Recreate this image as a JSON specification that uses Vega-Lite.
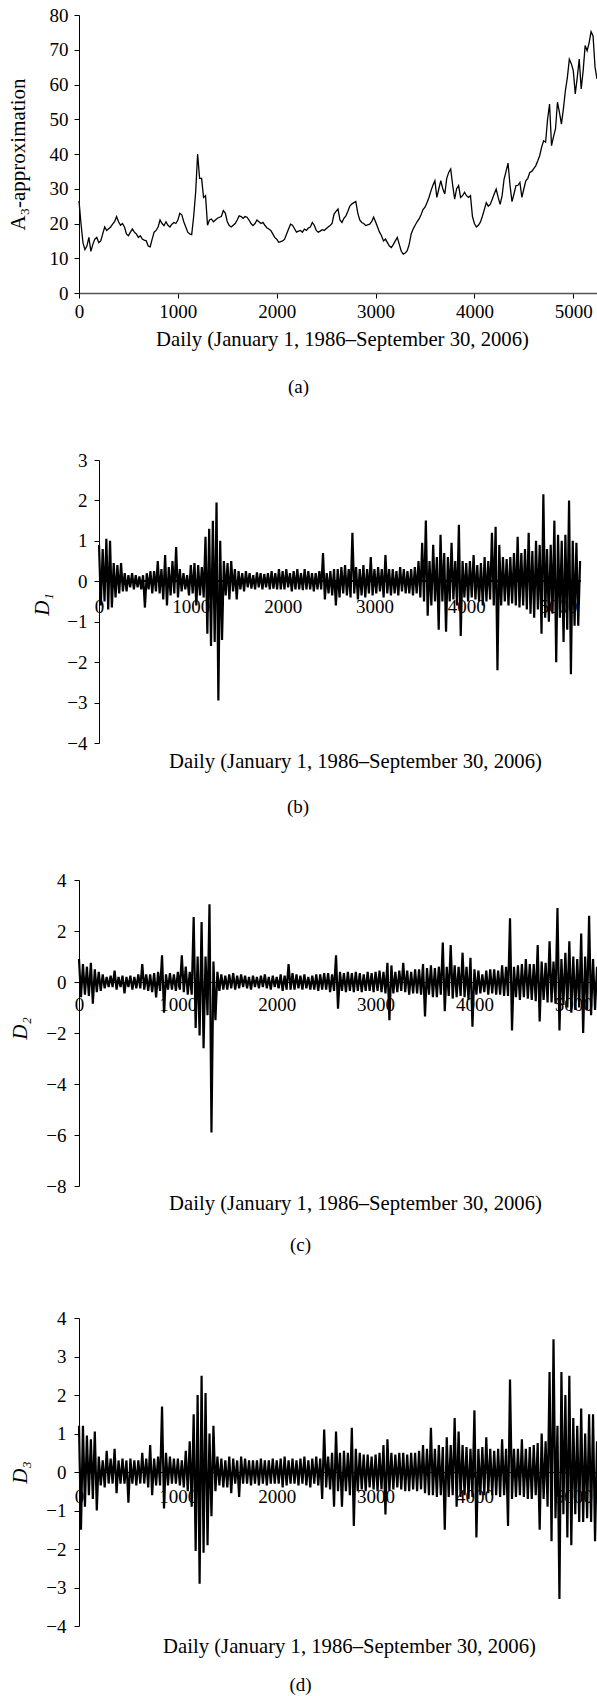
{
"$schema": "https://vega.github.io/schema/vega-lite/v6.json",
"background": "white",
"padding": {"left": 7, "top": 6, "right": 0, "bottom": 0},
"spacing": 54,
"config": {
  "font": "Liberation Serif",
  "view": {"stroke": null},
  "axis": {"labelFont": "Liberation Serif", "titleFont": "Liberation Serif", "labelFontSize": 19, "titleFontSize": 20.7, "titleFontWeight": "normal", "labelColor": "#000", "titleColor": "#000", "domainColor": "#000", "tickColor": "#000", "grid": false, "labelOverlap": false, "labelFlush": false},
  "axisY": {"titleFontSize": 21},
  "title": {"font": "Liberation Serif", "fontSize": 19, "fontWeight": "normal", "color": "#000"}
},
"datasets": {"s": [
{"t":0,"a":26.5,"b":0.9,"c":0.9,"d":1.2},{"t":20,"a":20,"b":-0.6,"c":-0.6,"d":-1.5},{"t":40,"a":14.5,"b":0.8,"c":0.7,"d":1.2},{"t":60,"a":12.5,"b":-0.5,"c":-0.5,"d":-0.9},{"t":80,"a":13.5,"b":1.05,"c":0.6,"d":0.95},{"t":100,"a":16,"b":-0.7,"c":-0.55,"d":-0.6},{"t":120,"a":12,"b":1.0,"c":0.75,"d":0.85},{"t":140,"a":14,"b":-0.65,"c":-0.85,"d":-0.7},{"t":160,"a":15.5,"b":0.45,"c":0.5,"d":1.05},{"t":180,"a":16,"b":-0.4,"c":-0.4,"d":-1.0},
{"t":200,"a":14.5,"b":0.4,"c":0.4,"d":0.4},{"t":220,"a":15,"b":-0.3,"c":-0.35,"d":-0.35},{"t":240,"a":17,"b":0.45,"c":0.3,"d":0.3},{"t":260,"a":19,"b":-0.25,"c":-0.25,"d":-0.4},{"t":280,"a":18,"b":0.2,"c":0.2,"d":0.55},{"t":300,"a":18.5,"b":-0.25,"c":-0.2,"d":-0.3},{"t":320,"a":19,"b":0.15,"c":0.25,"d":0.35},{"t":340,"a":19.8,"b":-0.15,"c":-0.2,"d":-0.3},{"t":360,"a":20.5,"b":0.2,"c":0.45,"d":0.6},{"t":380,"a":22,"b":-0.2,"c":-0.3,"d":-0.55},
{"t":400,"a":20.5,"b":0.15,"c":0.2,"d":0.3},{"t":420,"a":19.5,"b":-0.15,"c":-0.2,"d":-0.3},{"t":440,"a":20,"b":0.12,"c":0.25,"d":0.35},{"t":460,"a":19,"b":-0.2,"c":-0.45,"d":-0.3},{"t":480,"a":17,"b":0.15,"c":0.2,"d":0.3},{"t":500,"a":16.5,"b":-0.65,"c":-0.2,"d":-0.8},{"t":520,"a":17.5,"b":0.2,"c":0.25,"d":0.35},{"t":540,"a":18.4,"b":-0.2,"c":-0.3,"d":-0.3},{"t":560,"a":17.5,"b":0.25,"c":0.2,"d":0.3},{"t":580,"a":17,"b":-0.3,"c":-0.25,"d":-0.35},
{"t":600,"a":16,"b":0.25,"c":0.3,"d":0.3},{"t":620,"a":16.5,"b":-0.25,"c":-0.25,"d":-0.3},{"t":640,"a":15.5,"b":0.5,"c":0.7,"d":0.5},{"t":660,"a":15.2,"b":-0.3,"c":-0.3,"d":-0.3},{"t":680,"a":15,"b":0.3,"c":0.3,"d":0.35},{"t":700,"a":13.5,"b":-0.45,"c":-0.35,"d":-0.4},{"t":720,"a":13.3,"b":0.65,"c":0.3,"d":0.7},{"t":740,"a":15.5,"b":-0.6,"c":-0.4,"d":-0.6},{"t":760,"a":17.5,"b":0.35,"c":0.35,"d":0.35},{"t":780,"a":18,"b":-0.35,"c":-0.6,"d":-0.35},
{"t":800,"a":19,"b":0.5,"c":0.4,"d":0.4},{"t":820,"a":21,"b":-0.3,"c":-0.35,"d":-0.35},{"t":840,"a":20,"b":0.85,"c":1.05,"d":1.7},{"t":860,"a":19.4,"b":-0.4,"c":-1.2,"d":-0.95},{"t":880,"a":20.5,"b":0.3,"c":0.3,"d":0.5},{"t":900,"a":19.5,"b":-0.25,"c":-0.3,"d":-0.35},{"t":920,"a":19,"b":0.2,"c":0.35,"d":0.4},{"t":940,"a":19.8,"b":-0.2,"c":-0.3,"d":-0.3},{"t":960,"a":20.3,"b":0.15,"c":0.3,"d":0.35},{"t":980,"a":20,"b":-0.35,"c":-0.35,"d":-0.3},
{"t":1000,"a":21,"b":0.4,"c":0.4,"d":0.35},{"t":1020,"a":22.9,"b":-0.3,"c":-0.3,"d":-0.35},{"t":1040,"a":22.5,"b":0.45,"c":1.05,"d":0.3},{"t":1060,"a":20.5,"b":-0.6,"c":-0.4,"d":-0.4},{"t":1080,"a":19,"b":0.4,"c":0.6,"d":0.55},{"t":1100,"a":17.5,"b":-0.35,"c":-0.5,"d":-0.5},{"t":1120,"a":17,"b":0.35,"c":0.4,"d":0.8},{"t":1140,"a":16.8,"b":-0.4,"c":-0.5,"d":-0.9},{"t":1160,"a":22,"b":1.1,"c":2.55,"d":1.5},{"t":1180,"a":29,"b":-1.3,"c":-1.8,"d":-2.05},
{"t":1200,"a":40,"b":1.3,"c":1.0,"d":2.0},{"t":1220,"a":33,"b":-1.6,"c":-2.1,"d":-2.9},{"t":1240,"a":33,"b":1.5,"c":2.35,"d":2.5},{"t":1260,"a":27.5,"b":-1.5,"c":-2.6,"d":-2.1},{"t":1280,"a":28,"b":1.95,"c":1.0,"d":2.05},{"t":1300,"a":19.5,"b":-2.95,"c":-1.3,"d":-1.9},{"t":1320,"a":21,"b":1.0,"c":3.05,"d":1.0},{"t":1340,"a":21.3,"b":-1.45,"c":-5.9,"d":-1.15},{"t":1360,"a":20.5,"b":0.5,"c":0.8,"d":1.2},{"t":1380,"a":21,"b":-0.35,"c":-1.5,"d":-0.5},
{"t":1400,"a":21.5,"b":0.45,"c":0.4,"d":0.4},{"t":1420,"a":21.8,"b":-0.45,"c":-0.35,"d":-0.35},{"t":1440,"a":22,"b":0.5,"c":0.3,"d":0.35},{"t":1460,"a":23.7,"b":-0.25,"c":-0.3,"d":-0.4},{"t":1480,"a":23,"b":0.3,"c":0.25,"d":0.3},{"t":1500,"a":20.5,"b":-0.45,"c":-0.3,"d":-0.4},{"t":1520,"a":19.4,"b":0.25,"c":0.3,"d":0.4},{"t":1540,"a":19,"b":-0.2,"c":-0.25,"d":-0.55},{"t":1560,"a":19.5,"b":0.2,"c":0.35,"d":0.35},{"t":1580,"a":20,"b":-0.25,"c":-0.3,"d":-0.3},
{"t":1600,"a":21,"b":0.25,"c":0.25,"d":0.3},{"t":1620,"a":22.2,"b":-0.15,"c":-0.25,"d":-0.65},{"t":1640,"a":22,"b":0.2,"c":0.3,"d":0.4},{"t":1660,"a":21.5,"b":-0.18,"c":-0.2,"d":-0.3},{"t":1680,"a":22,"b":0.15,"c":0.25,"d":0.35},{"t":1700,"a":21.8,"b":-0.2,"c":-0.25,"d":-0.3},{"t":1720,"a":21,"b":0.22,"c":0.2,"d":0.3},{"t":1740,"a":20,"b":-0.15,"c":-0.3,"d":-0.35},{"t":1760,"a":19.4,"b":0.2,"c":0.25,"d":0.3},{"t":1780,"a":20,"b":-0.2,"c":-0.2,"d":-0.3},
{"t":1800,"a":21,"b":0.18,"c":0.2,"d":0.3},{"t":1820,"a":20.5,"b":-0.15,"c":-0.25,"d":-0.35},{"t":1840,"a":20,"b":0.2,"c":0.25,"d":0.35},{"t":1860,"a":20.3,"b":-0.2,"c":-0.2,"d":-0.3},{"t":1880,"a":19.5,"b":0.25,"c":0.3,"d":0.3},{"t":1900,"a":18.8,"b":-0.18,"c":-0.25,"d":-0.35},{"t":1920,"a":18.4,"b":0.2,"c":0.2,"d":0.3},{"t":1940,"a":18,"b":-0.2,"c":-0.3,"d":-0.3},{"t":1960,"a":17,"b":0.3,"c":0.25,"d":0.35},{"t":1980,"a":16,"b":-0.2,"c":-0.2,"d":-0.3},
{"t":2000,"a":15.5,"b":0.25,"c":0.2,"d":0.3},{"t":2020,"a":14.6,"b":-0.2,"c":-0.25,"d":-0.3},{"t":2040,"a":14.8,"b":0.3,"c":0.3,"d":0.35},{"t":2060,"a":15,"b":-0.15,"c":-0.35,"d":-0.4},{"t":2080,"a":15.5,"b":0.2,"c":0.25,"d":0.4},{"t":2100,"a":17,"b":-0.25,"c":-0.3,"d":-0.35},{"t":2120,"a":18.4,"b":0.25,"c":0.7,"d":0.3},{"t":2140,"a":19.8,"b":-0.2,"c":-0.3,"d":-0.3},{"t":2160,"a":19.5,"b":0.3,"c":0.35,"d":0.35},{"t":2180,"a":18.5,"b":-0.2,"c":-0.3,"d":-0.3},
{"t":2200,"a":17.5,"b":0.2,"c":0.3,"d":0.3},{"t":2220,"a":17.8,"b":-0.22,"c":-0.25,"d":-0.35},{"t":2240,"a":18,"b":0.3,"c":0.25,"d":0.35},{"t":2260,"a":17.5,"b":-0.2,"c":-0.3,"d":-0.3},{"t":2280,"a":18.4,"b":0.25,"c":0.3,"d":0.4},{"t":2300,"a":18,"b":-0.2,"c":-0.25,"d":-0.35},{"t":2320,"a":18.7,"b":0.2,"c":0.2,"d":0.3},{"t":2340,"a":19,"b":-0.25,"c":-0.3,"d":-0.4},{"t":2360,"a":20.3,"b":0.2,"c":0.25,"d":0.35},{"t":2380,"a":19.5,"b":-0.2,"c":-0.3,"d":-0.3},
{"t":2400,"a":18,"b":0.25,"c":0.3,"d":0.4},{"t":2420,"a":17.5,"b":-0.2,"c":-0.35,"d":-0.35},{"t":2440,"a":17.8,"b":0.7,"c":0.3,"d":0.35},{"t":2460,"a":18.2,"b":-0.45,"c":-0.3,"d":-0.7},{"t":2480,"a":18,"b":0.2,"c":0.35,"d":1.1},{"t":2500,"a":18.5,"b":-0.3,"c":-0.3,"d":-0.4},{"t":2520,"a":19,"b":0.25,"c":0.35,"d":0.4},{"t":2540,"a":19.4,"b":-0.35,"c":-0.4,"d":-0.45},{"t":2560,"a":20,"b":0.3,"c":0.3,"d":0.5},{"t":2580,"a":22.7,"b":-0.6,"c":-0.35,"d":-0.9},
{"t":2600,"a":23.5,"b":0.3,"c":1.05,"d":1.05},{"t":2620,"a":24.2,"b":-0.4,"c":-1.05,"d":-0.5},{"t":2640,"a":21,"b":0.35,"c":0.4,"d":0.5},{"t":2660,"a":20.3,"b":-0.3,"c":-0.35,"d":-0.9},{"t":2680,"a":21.5,"b":0.4,"c":0.35,"d":0.55},{"t":2700,"a":22.2,"b":-0.35,"c":-0.4,"d":-0.5},{"t":2720,"a":23.5,"b":0.3,"c":0.4,"d":0.5},{"t":2740,"a":25,"b":-0.4,"c":-0.35,"d":-0.6},{"t":2760,"a":25.6,"b":1.2,"c":0.35,"d":1.15},{"t":2780,"a":26,"b":-0.3,"c":-0.4,"d":-1.4},
{"t":2800,"a":26.3,"b":0.35,"c":0.4,"d":0.6},{"t":2820,"a":23,"b":-0.45,"c":-0.35,"d":-0.5},{"t":2840,"a":21,"b":0.3,"c":0.35,"d":0.5},{"t":2860,"a":20.3,"b":-0.35,"c":-0.4,"d":-0.45},{"t":2880,"a":20,"b":0.4,"c":0.3,"d":0.45},{"t":2900,"a":19.4,"b":-0.4,"c":-0.35,"d":-0.5},{"t":2920,"a":19.6,"b":0.3,"c":0.4,"d":0.45},{"t":2940,"a":19.8,"b":-0.3,"c":-0.35,"d":-0.4},{"t":2960,"a":20.5,"b":0.6,"c":0.35,"d":0.4},{"t":2980,"a":21.8,"b":-0.35,"c":-0.4,"d":-0.45},
{"t":3000,"a":20.5,"b":0.3,"c":0.4,"d":0.45},{"t":3020,"a":19,"b":-0.3,"c":-0.35,"d":-0.5},{"t":3040,"a":17.5,"b":0.35,"c":0.45,"d":0.5},{"t":3060,"a":16.5,"b":-0.25,"c":-0.4,"d":-0.45},{"t":3080,"a":15,"b":0.3,"c":0.4,"d":0.7},{"t":3100,"a":15.5,"b":-0.4,"c":-0.45,"d":-1.1},{"t":3120,"a":14.5,"b":0.65,"c":0.75,"d":0.85},{"t":3140,"a":13.5,"b":-0.3,"c":-1.5,"d":-0.5},{"t":3160,"a":13.1,"b":0.3,"c":0.65,"d":0.5},{"t":3180,"a":14,"b":-0.35,"c":-0.45,"d":-0.45},
{"t":3200,"a":15,"b":0.3,"c":0.4,"d":0.45},{"t":3220,"a":16,"b":-0.3,"c":-0.4,"d":-0.4},{"t":3240,"a":14,"b":0.25,"c":0.45,"d":0.5},{"t":3260,"a":12,"b":-0.35,"c":-0.35,"d":-0.45},{"t":3280,"a":11.2,"b":0.35,"c":0.75,"d":0.5},{"t":3300,"a":11.5,"b":-0.25,"c":-0.4,"d":-0.5},{"t":3320,"a":12.2,"b":0.3,"c":0.45,"d":0.45},{"t":3340,"a":14,"b":-0.3,"c":-0.5,"d":-0.5},{"t":3360,"a":17,"b":0.25,"c":0.4,"d":0.5},{"t":3380,"a":18.4,"b":-0.3,"c":-0.45,"d":-0.45},
{"t":3400,"a":19.5,"b":0.3,"c":0.5,"d":0.5},{"t":3420,"a":20.5,"b":-0.35,"c":-0.45,"d":-0.5},{"t":3440,"a":21.3,"b":0.35,"c":0.5,"d":0.55},{"t":3460,"a":22.5,"b":-0.3,"c":-0.5,"d":-0.45},{"t":3480,"a":24,"b":0.5,"c":0.7,"d":0.7},{"t":3500,"a":24.7,"b":-0.4,"c":-1.35,"d":-0.55},{"t":3520,"a":26,"b":0.95,"c":0.55,"d":0.6},{"t":3540,"a":27.5,"b":-0.5,"c":-0.5,"d":-0.6},{"t":3560,"a":29.4,"b":1.5,"c":0.65,"d":1.15},{"t":3580,"a":31,"b":-0.85,"c":-0.6,"d":-0.6},
{"t":3600,"a":32.3,"b":0.5,"c":0.55,"d":0.6},{"t":3620,"a":27.5,"b":-0.6,"c":-0.6,"d":-0.65},{"t":3640,"a":30,"b":0.9,"c":0.6,"d":0.7},{"t":3660,"a":32.3,"b":-0.5,"c":-0.5,"d":-0.6},{"t":3680,"a":30,"b":0.6,"c":1.55,"d":0.65},{"t":3700,"a":28.5,"b":-1.2,"c":-1.15,"d":-1.5},{"t":3720,"a":33,"b":1.15,"c":0.6,"d":0.9},{"t":3740,"a":34.7,"b":-0.5,"c":-0.55,"d":-0.65},{"t":3760,"a":35.7,"b":0.7,"c":1.45,"d":0.7},{"t":3780,"a":31,"b":-1.25,"c":-0.65,"d":-0.6},
{"t":3800,"a":27,"b":0.6,"c":0.65,"d":1.4},{"t":3820,"a":30,"b":-0.5,"c":-0.6,"d":-0.9},{"t":3840,"a":30.9,"b":0.95,"c":0.6,"d":1.05},{"t":3860,"a":27.5,"b":-0.45,"c":-0.55,"d":-0.65},{"t":3880,"a":28,"b":0.5,"c":1.15,"d":0.7},{"t":3900,"a":29,"b":-0.6,"c":-0.6,"d":-0.6},{"t":3920,"a":28,"b":1.4,"c":0.6,"d":0.65},{"t":3940,"a":27.5,"b":-1.35,"c":-0.7,"d":-0.7},{"t":3960,"a":28,"b":0.5,"c":0.95,"d":0.6},{"t":3980,"a":22,"b":-0.4,"c":-1.75,"d":-0.65},
{"t":4000,"a":20,"b":0.45,"c":0.5,"d":1.6},{"t":4020,"a":19,"b":-0.5,"c":-0.5,"d":-1.7},{"t":4040,"a":19.5,"b":0.5,"c":0.45,"d":0.6},{"t":4060,"a":20.4,"b":-0.4,"c":-0.45,"d":-0.6},{"t":4080,"a":22,"b":0.65,"c":0.3,"d":0.65},{"t":4100,"a":24,"b":-0.45,"c":-0.4,"d":-0.6},{"t":4120,"a":26,"b":0.4,"c":0.45,"d":0.9},{"t":4140,"a":25,"b":-0.5,"c":-0.5,"d":-0.55},{"t":4160,"a":25.5,"b":0.45,"c":0.5,"d":0.6},{"t":4180,"a":27,"b":-0.6,"c":-0.45,"d":-0.6},
{"t":4200,"a":28.5,"b":0.6,"c":0.5,"d":0.55},{"t":4220,"a":29.9,"b":-0.5,"c":-0.5,"d":-0.6},{"t":4240,"a":27.5,"b":0.5,"c":0.45,"d":0.6},{"t":4260,"a":25.5,"b":-0.45,"c":-0.5,"d":-0.65},{"t":4280,"a":28,"b":1.2,"c":0.65,"d":0.85},{"t":4300,"a":32.8,"b":-0.6,"c":-0.55,"d":-0.6},{"t":4320,"a":35,"b":1.35,"c":0.6,"d":0.6},{"t":4340,"a":37.4,"b":-2.2,"c":-0.55,"d":-1.4},{"t":4360,"a":31,"b":0.9,"c":2.5,"d":2.4},{"t":4380,"a":26.3,"b":-0.6,"c":-1.9,"d":-0.7},
{"t":4400,"a":28.5,"b":0.6,"c":0.6,"d":0.6},{"t":4420,"a":30.9,"b":-0.5,"c":-0.6,"d":-0.65},{"t":4440,"a":31,"b":0.55,"c":0.65,"d":0.6},{"t":4460,"a":31.8,"b":-0.6,"c":-0.7,"d":-0.6},{"t":4480,"a":27.5,"b":0.6,"c":0.7,"d":0.85},{"t":4500,"a":30,"b":-0.55,"c":-0.6,"d":-0.65},{"t":4520,"a":32.3,"b":0.7,"c":0.9,"d":0.6},{"t":4540,"a":33,"b":-0.6,"c":-0.65,"d":-0.7},{"t":4560,"a":34.7,"b":1.1,"c":0.7,"d":0.65},{"t":4580,"a":35,"b":-0.65,"c":-0.7,"d":-0.7},
{"t":4600,"a":35.8,"b":0.7,"c":0.7,"d":0.7},{"t":4620,"a":36.6,"b":-0.6,"c":-0.75,"d":-0.6},{"t":4640,"a":38,"b":0.8,"c":1.45,"d":0.75},{"t":4660,"a":39.5,"b":-0.7,"c":-1.55,"d":-1.5},{"t":4680,"a":42,"b":1.2,"c":0.8,"d":1.0},{"t":4700,"a":43.8,"b":-0.8,"c":-0.7,"d":-0.7},{"t":4720,"a":43.4,"b":0.75,"c":0.75,"d":0.8},{"t":4740,"a":50,"b":-0.9,"c":-0.8,"d":-0.9},{"t":4760,"a":54.4,"b":1.0,"c":1.6,"d":2.6},{"t":4780,"a":42.4,"b":-0.7,"c":-0.8,"d":-1.8},
{"t":4800,"a":45,"b":0.9,"c":0.8,"d":3.45},{"t":4820,"a":47.2,"b":-1.3,"c":-0.85,"d":-1.2},{"t":4840,"a":54.9,"b":2.15,"c":2.9,"d":1.2},{"t":4860,"a":52,"b":-0.9,"c":-1.9,"d":-3.3},{"t":4880,"a":48.6,"b":0.8,"c":0.9,"d":2.6},{"t":4900,"a":53,"b":-1.0,"c":-0.9,"d":-1.1},{"t":4920,"a":58.2,"b":0.9,"c":1.15,"d":2.0},{"t":4940,"a":62,"b":-0.8,"c":-1.0,"d":-1.7},{"t":4960,"a":67.3,"b":1.5,"c":1.6,"d":2.5},{"t":4980,"a":66,"b":-2.0,"c":-1.2,"d":-1.9},
{"t":5000,"a":64,"b":1.15,"c":1.0,"d":1.4},{"t":5020,"a":57.3,"b":-0.9,"c":-1.1,"d":-1.1},{"t":5040,"a":62,"b":1.0,"c":0.9,"d":1.2},{"t":5060,"a":67.3,"b":-1.5,"c":-1.0,"d":-1.3},{"t":5080,"a":58.7,"b":1.15,"c":1.9,"d":1.65},{"t":5100,"a":64,"b":-1.2,"c":-2.0,"d":-1.3},{"t":5120,"a":71.2,"b":2.0,"c":1.0,"d":1.0},{"t":5140,"a":69.7,"b":-2.3,"c":-1.1,"d":-1.2},{"t":5160,"a":72,"b":1.0,"c":2.6,"d":1.5},{"t":5180,"a":75.2,"b":-1.1,"c":-1.3,"d":-1.3},
{"t":5200,"a":74,"b":0.95,"c":0.9,"d":1.5},{"t":5220,"a":65,"b":-1.1,"c":-1.1,"d":-1.8},{"t":5240,"a":61.6,"b":0.5,"c":0.6,"d":0.8}
]},
"vconcat": [
{
  "width": 519, "height": 278,
  "title": {"text": "(a)", "orient": "bottom", "anchor": "middle", "dx": -40, "offset": 29},
  "data": {"name": "s"},
  "mark": {"type": "line", "color": "#000", "strokeWidth": 1.3},
  "encoding": {
    "x": {"field": "t", "type": "quantitative", "scale": {"domain": [0, 5250], "nice": false, "zero": false},
      "axis": {"values": [0, 1000, 2000, 3000, 4000, 5000], "format": "d", "title": "Daily (January 1, 1986–September 30, 2006)", "tickSize": 5, "labelPadding": 4, "domainColor": "#555", "domainWidth": 1.5, "titleX": 263, "titleY": 46, "titleBaseline": "middle"}},
    "y": {"field": "a", "type": "quantitative", "scale": {"domain": [0, 80], "nice": false},
      "axis": {"values": [0, 10, 20, 30, 40, 50, 60, 70, 80], "title": "A₃-approximation", "tickSize": 5, "labelPadding": 6, "titleX": -61, "titleY": 139, "titleAngle": 270, "titleAlign": "center", "titleBaseline": "middle"}}
  }
},
{
  "width": 502, "height": 283,
  "title": {"text": "(b)", "orient": "bottom", "anchor": "middle", "dx": -32, "offset": 27},
  "data": {"name": "s"},
  "resolve": {"axis": {"x": "independent", "y": "independent"}},
  "layer": [
    {
      "mark": {"type": "line", "color": "#000", "strokeWidth": 2.2},
      "encoding": {
        "x": {"field": "t", "type": "quantitative", "scale": {"domain": [-218, 5250], "nice": false, "zero": false},
          "axis": {"values": [0, 1000, 2000, 3000, 4000, 5000], "format": "d", "title": "Daily (January 1, 1986–September 30, 2006)", "domain": false, "tickSize": 5, "labelPadding": 11, "offset": -162, "titleX": 276, "titleY": 180, "titleBaseline": "middle"}},
        "y": {"field": "b", "type": "quantitative", "scale": {"domain": [-4, 3], "nice": false},
          "axis": {"values": [-4, -3, -2, -1, 0, 1, 2, 3], "title": "D₁", "titleFontStyle": "italic", "tickSize": 5, "labelPadding": 7, "offset": -20, "titleX": -57, "titleY": 144, "titleAngle": 270, "titleAlign": "center", "titleBaseline": "middle"}}
      }
    },
    {
      "mark": {"type": "rule", "color": "#000", "strokeWidth": 1},
      "encoding": {
        "x": {"datum": 0, "type": "quantitative", "axis": null},
        "x2": {"datum": 5250},
        "y": {"datum": 0, "type": "quantitative", "axis": null}
      }
    }
  ]
},
{
  "width": 519, "height": 306,
  "title": {"text": "(c)", "orient": "bottom", "anchor": "middle", "dx": -38, "offset": 23},
  "data": {"name": "s"},
  "mark": {"type": "line", "color": "#000", "strokeWidth": 2.2},
  "encoding": {
    "x": {"field": "t", "type": "quantitative", "scale": {"domain": [0, 5250], "nice": false, "zero": false},
      "axis": {"values": [0, 1000, 2000, 3000, 4000, 5000], "format": "d", "title": "Daily (January 1, 1986–September 30, 2006)", "tickSize": 5, "labelPadding": 8, "offset": -204, "titleX": 276, "titleY": 221, "titleBaseline": "middle"}},
    "y": {"field": "c", "type": "quantitative", "scale": {"domain": [-8, 4], "nice": false},
      "axis": {"values": [-8, -6, -4, -2, 0, 2, 4], "title": "D₂", "titleFontStyle": "italic", "tickSize": 5, "labelPadding": 8, "titleX": -59, "titleY": 148, "titleAngle": 270, "titleAlign": "center", "titleBaseline": "middle"}}
  }
},
{
  "width": 519, "height": 308,
  "title": {"text": "(d)", "orient": "bottom", "anchor": "middle", "dx": -38, "offset": 20},
  "data": {"name": "s"},
  "mark": {"type": "line", "color": "#000", "strokeWidth": 2.2},
  "encoding": {
    "x": {"field": "t", "type": "quantitative", "scale": {"domain": [0, 5250], "nice": false, "zero": false},
      "axis": {"values": [0, 1000, 2000, 3000, 4000, 5000], "format": "d", "title": "Daily (January 1, 1986–September 30, 2006)", "tickSize": 5, "labelPadding": 10, "offset": -154, "titleX": 270, "titleY": 174, "titleBaseline": "middle"}},
    "y": {"field": "d", "type": "quantitative", "scale": {"domain": [-4, 4], "nice": false},
      "axis": {"values": [-4, -3, -2, -1, 0, 1, 2, 3, 4], "title": "D₃", "titleFontStyle": "italic", "tickSize": 5, "labelPadding": 8, "titleX": -59, "titleY": 154, "titleAngle": 270, "titleAlign": "center", "titleBaseline": "middle"}}
  }
}
]
}
